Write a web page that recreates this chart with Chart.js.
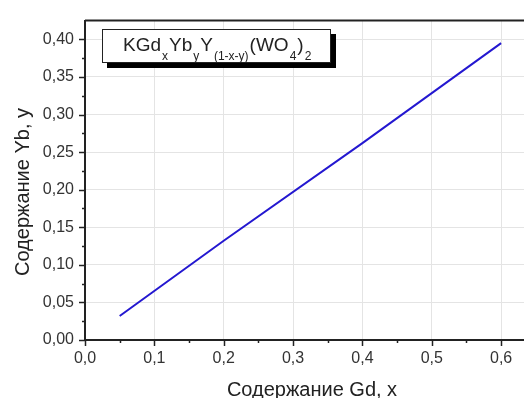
<!DOCTYPE html>
<html>
<head>
<meta charset="utf-8">
<script src="https://cdn.jsdelivr.net/npm/chart.js@4/dist/chart.umd.min.js"></script>
<style>
  html, body { margin: 0; padding: 0; background: #fff; }
  #wrap { width: 524px; height: 398px; }
</style>
</head>
<body>
<div id="wrap"><canvas id="chart" width="524" height="398"></canvas></div>
<script>
// values
const gdContent = [0.05, 0.2, 0.4, 0.6];
const ybContent = [0.032, 0.132, 0.262, 0.395];

const xTitle = 'Содержание Gd, x';
const yTitle = 'Содержание Yb, y';
// formula pieces: [text, isSubscript]
const formulaParts = [['KGd', 0], ['x', 1], ['Yb', 0], ['y', 1], ['Y', 0], ['(1-x-y)', 1], ['(WO', 0], ['4', 1], [')', 0], ['2', 1]];

const FONT = '"Liberation Sans", Arial, sans-serif';
const comma = v => v.toFixed(2).replace('.', ',');

// ticks, top border, axis titles and the formula box
const extras = {
  id: 'extras',
  afterDraw(chart) {
    const ctx = chart.ctx;
    const a = chart.chartArea;
    const xs = chart.scales.x, ys = chart.scales.y;
    ctx.save();
    ctx.strokeStyle = '#222';
    ctx.lineWidth = 1.5;
    // major + minor ticks on x
    for (let i = 0; i <= 12; i++) {
      const v = i * 0.05;
      const px = Math.round(xs.getPixelForValue(v)) + 0.5;
      const len = i % 2 === 0 ? 6 : 3;
      ctx.beginPath(); ctx.moveTo(px, a.bottom); ctx.lineTo(px, a.bottom + len); ctx.stroke();
    }
    // major + minor ticks on y
    for (let i = 0; i <= 16; i++) {
      const v = i * 0.025;
      const py = Math.round(ys.getPixelForValue(v)) + 0.5;
      const len = i % 2 === 0 ? 6 : 3;
      ctx.beginPath(); ctx.moveTo(a.left, py); ctx.lineTo(a.left - len, py); ctx.stroke();
    }
    // top frame line
    ctx.lineWidth = 2;
    ctx.beginPath(); ctx.moveTo(a.left, a.top); ctx.lineTo(a.right, a.top); ctx.stroke();

    // axis titles
    ctx.fillStyle = '#222';
    ctx.font = '20px ' + FONT;
    ctx.textAlign = 'center';
    ctx.textBaseline = 'alphabetic';
    ctx.fillText(xTitle, 312, 396);
    ctx.save();
    ctx.translate(29, 192);
    ctx.rotate(-Math.PI / 2);
    ctx.fillText(yTitle, 0, 0);
    ctx.restore();

    // formula box with shadow
    const bx = 102, by = 29, bw = 228, bh = 33;
    ctx.fillStyle = '#000';
    ctx.fillRect(bx + 5, by + 5, bw + 1, bh + 1);
    ctx.fillStyle = '#fff';
    ctx.fillRect(bx, by, bw, bh);
    ctx.strokeStyle = '#222';
    ctx.lineWidth = 1;
    ctx.strokeRect(bx + 0.5, by + 0.5, bw, bh);
    ctx.textAlign = 'left';
    ctx.fillStyle = '#222';
    let tx = 123;
    formulaParts.forEach(([t, sub]) => {
      ctx.font = (sub ? '12px ' : '19px ') + FONT;
      if (sub) tx += 1;
      ctx.fillText(t, tx, sub ? 60 : 51);
      tx += ctx.measureText(t).width + (sub ? 1 : 0);
    });
    ctx.restore();
  }
};

new Chart(document.getElementById('chart'), {
  type: 'scatter',
  data: {
    datasets: [{
      data: gdContent.map((x, i) => ({ x, y: ybContent[i] })),
      showLine: true,
      borderColor: '#2418d0',
      borderWidth: 2,
      pointRadius: 0,
      fill: false
    }]
  },
  options: {
    responsive: false,
    animation: false,
    layout: { padding: { top: 12, right: 0, left: 0, bottom: 0 } },
    plugins: { legend: { display: false }, tooltip: { enabled: false } },
    scales: {
      x: {
        type: 'linear',
        min: 0,
        max: 0.633,
        afterFit(s) { s.height = 58; },
        afterBuildTicks(s) { s.ticks = [0, 0.1, 0.2, 0.3, 0.4, 0.5, 0.6].map(v => ({ value: v })); },
        ticks: {
          padding: 9,
          color: '#333',
          font: { family: FONT, size: 16 },
          callback: v => v.toFixed(1).replace('.', ',')
        },
        grid: { color: '#e4e4e4', drawTicks: false, lineWidth: 1 },
        border: { color: '#222', width: 2 }
      },
      y: {
        type: 'linear',
        min: 0,
        max: 0.425,
        afterFit(s) { s.width = 85; },
        afterBuildTicks(s) { s.ticks = [0, 0.05, 0.1, 0.15, 0.2, 0.25, 0.3, 0.35, 0.4].map(v => ({ value: v })); },
        ticks: {
          padding: 11,
          color: '#333',
          font: { family: FONT, size: 16 },
          callback: v => comma(v)
        },
        grid: { color: '#e4e4e4', drawTicks: false, lineWidth: 1 },
        border: { color: '#222', width: 2 }
      }
    }
  },
  plugins: [extras]
});
</script>
</body>
</html>
